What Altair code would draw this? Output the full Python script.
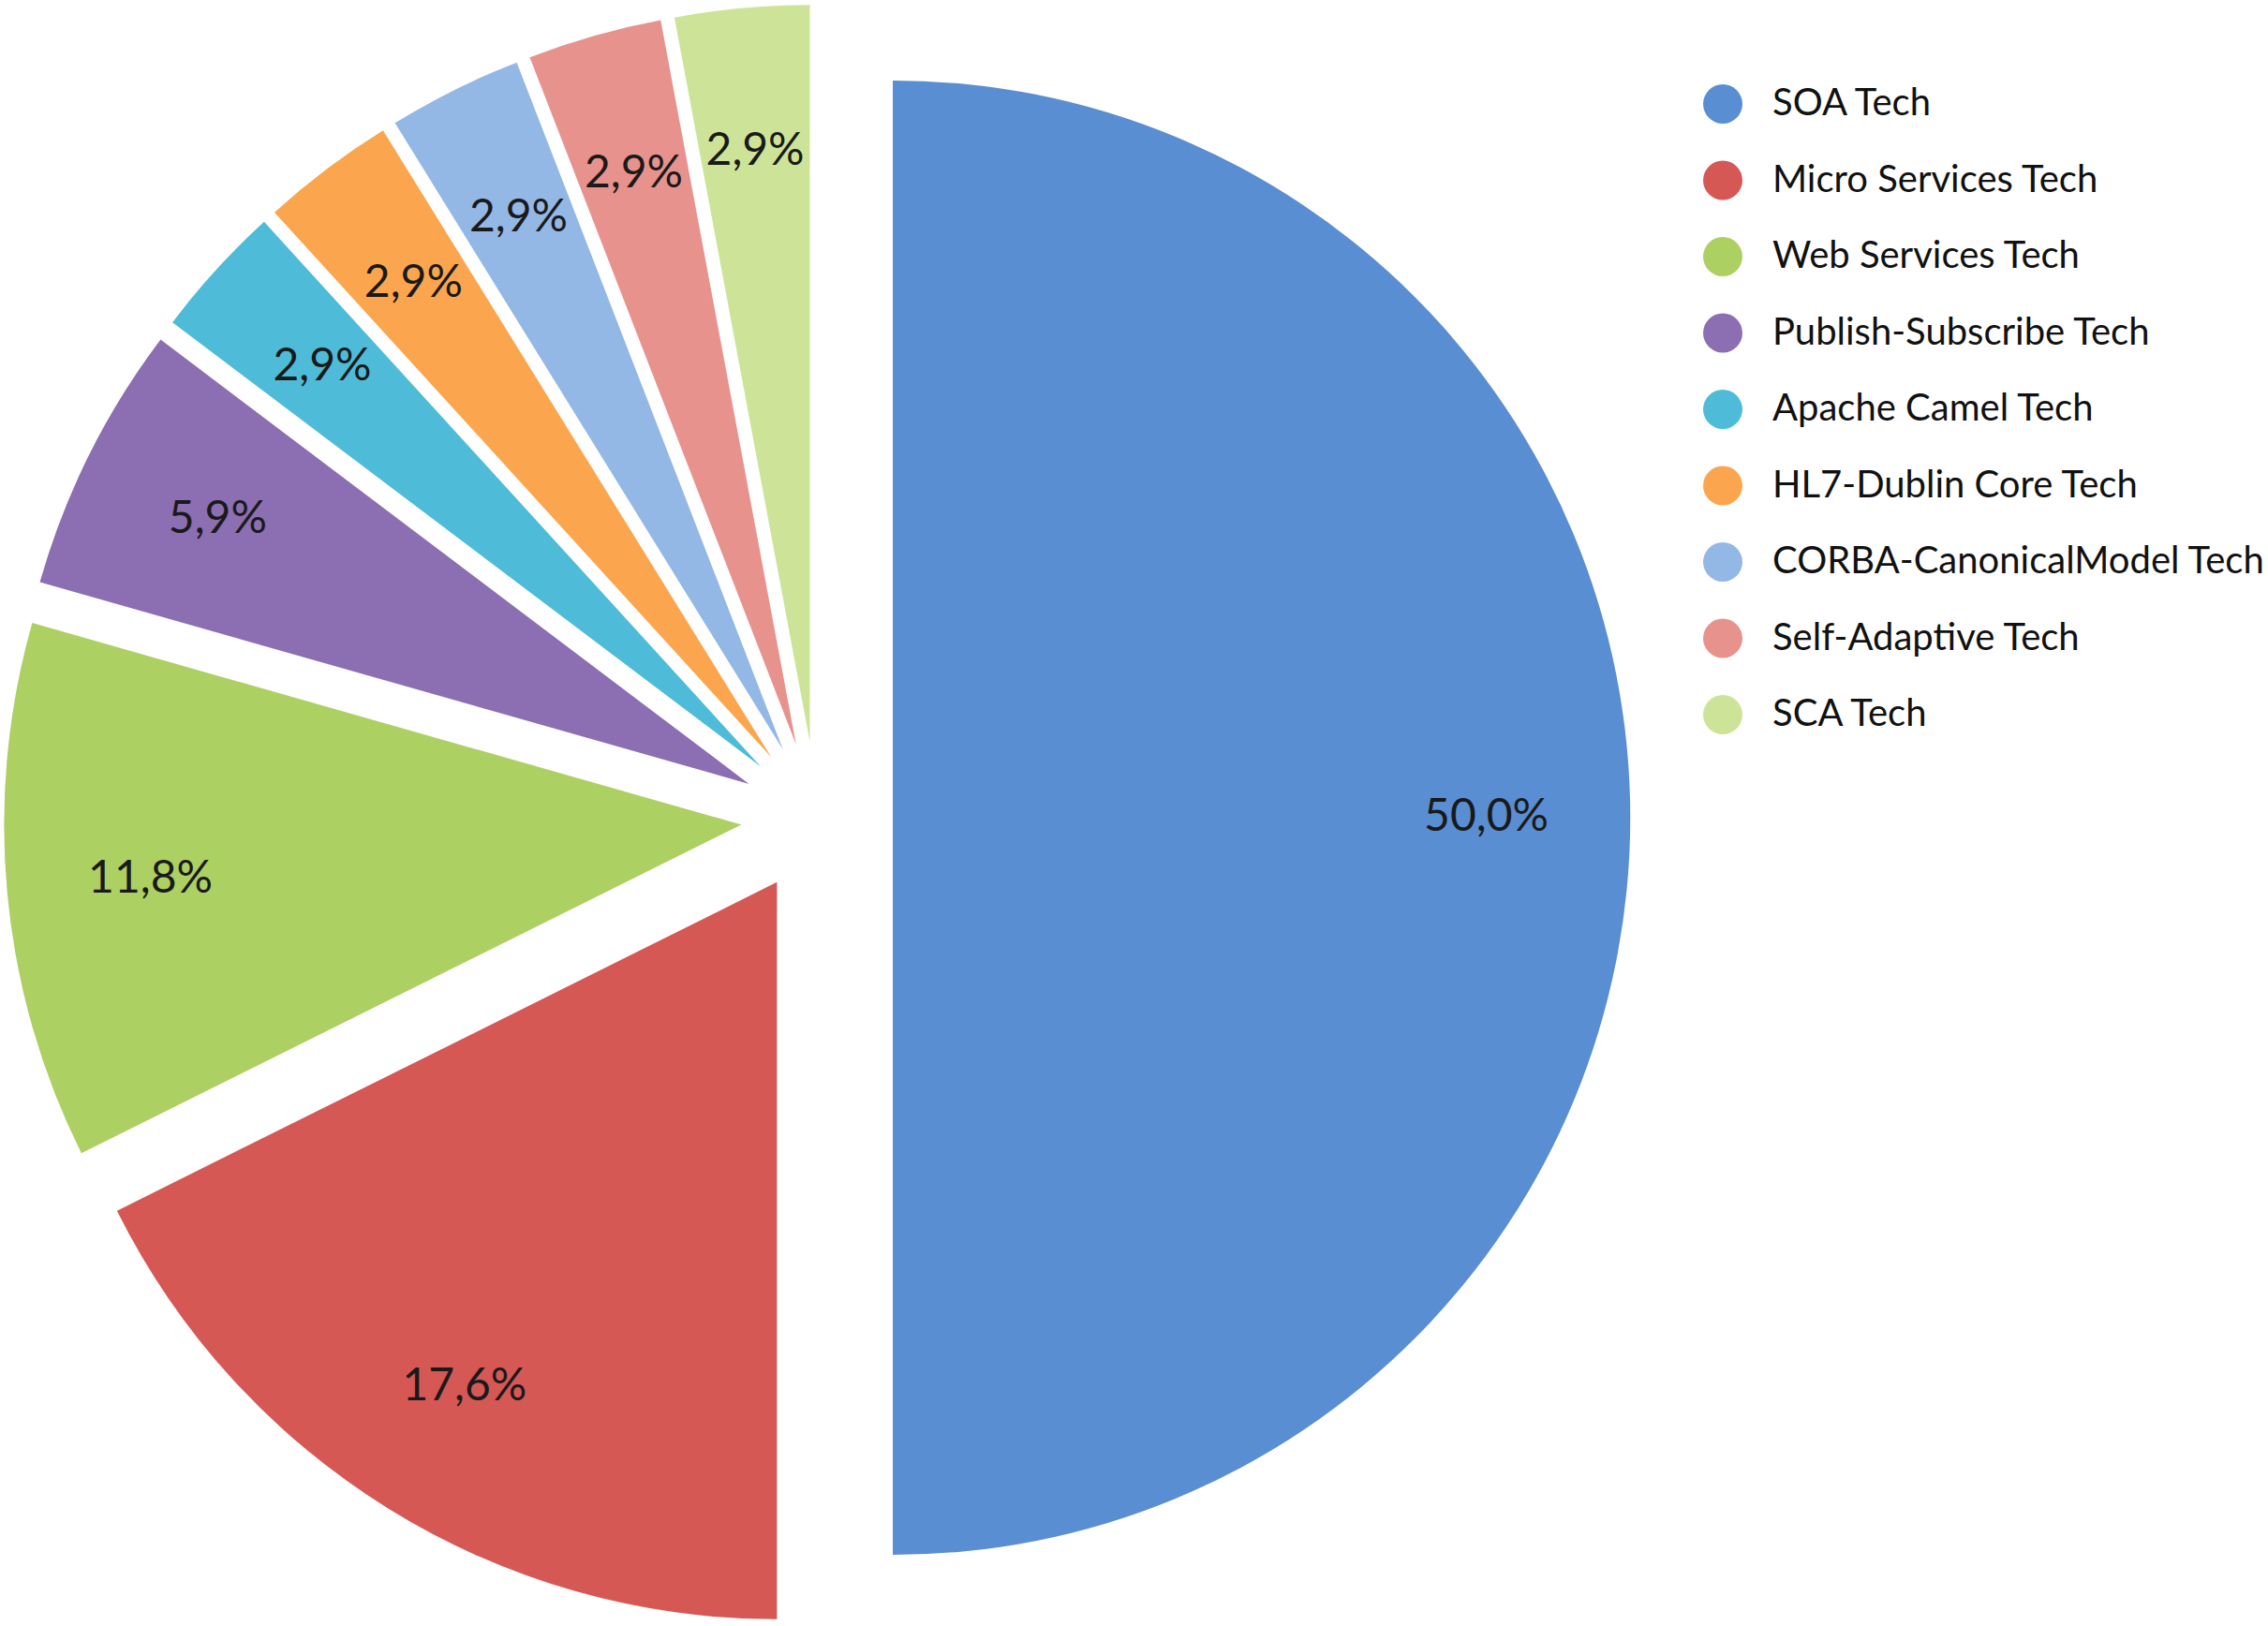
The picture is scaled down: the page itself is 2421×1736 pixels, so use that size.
import math
import altair as alt
import pandas as pd

categories = [
    "SOA Tech",
    "Micro Services Tech",
    "Web Services Tech",
    "Publish-Subscribe Tech",
    "Apache Camel Tech",
    "HL7-Dublin Core Tech",
    "CORBA-CanonicalModel Tech",
    "Self-Adaptive Tech",
    "SCA Tech",
]
counts = [17, 6, 4, 2, 1, 1, 1, 1, 1]
colors = [
    "#5A8ED2", "#D65855", "#ADD062", "#8C6EB2", "#4EBCD8",
    "#FBA64E", "#94B8E6", "#E8928E", "#CDE498",
]

total = sum(counts)
df = pd.DataFrame({"category": categories, "count": counts,
                   "order": list(range(len(categories)))})

CX, CY, R, EXPLODE = 872, 873, 787, 81
W, H = 2421, 1736

theta_scale = alt.Scale(domain=[0, total], range=[0, 2 * math.pi])
color_scale = alt.Scale(domain=categories, range=colors)

base = (
    alt.Chart(df)
    .transform_window(cum="sum(count)", sort=[alt.SortField("order")],
                      frame=[None, 0])
    .transform_calculate(
        c0="datum.cum - datum.count",
        mid="datum.cum - datum.count / 2",
    )
    .transform_calculate(ang=f"datum.mid / {total} * 2 * PI")
    .transform_calculate(
        px=f"{CX} + {EXPLODE} * sin(datum.ang)",
        py=f"{CY} - {EXPLODE} * cos(datum.ang)",
        label=f"replace(format(datum.count / {total}, '.1%'), '.', ',')",
    )
)

arcs = base.mark_arc(radius=R, strokeWidth=0).encode(
    theta=alt.Theta("c0:Q", scale=theta_scale, stack=False),
    theta2="cum:Q",
    x=alt.X("px:Q", scale=None),
    y=alt.Y("py:Q", scale=None),
    color=alt.Color(
        "category:N",
        scale=color_scale,
        legend=alt.Legend(
            orient="none",
            legendX=1818,
            legendY=90,
            title=None,
            symbolType="circle",
            symbolSize=1764,
            symbolStrokeWidth=0,
            labelFontSize=40,
            labelFont="Lato",
            labelColor="#111111",
            labelLimit=1000,
            labelOffset=32,
            rowPadding=39.5,
            padding=0,
        ),
    ),
)

labels = base.mark_text(radius=0.805 * R, fontSize=48, font="Lato",
                        color="#1a1a1a").encode(
    theta=alt.Theta("mid:Q", scale=theta_scale),
    x=alt.X("px:Q", scale=None),
    y=alt.Y("py:Q", scale=None),
    text="label:N",
)

chart = (
    alt.layer(arcs, labels)
    .properties(width=W, height=H, autosize=alt.AutoSizeParams(type="none"),
                padding=0, background="white")
    .configure_view(strokeWidth=0)
)

chart.save("out.html", embed_options={"renderer": "svg", "actions": False})
